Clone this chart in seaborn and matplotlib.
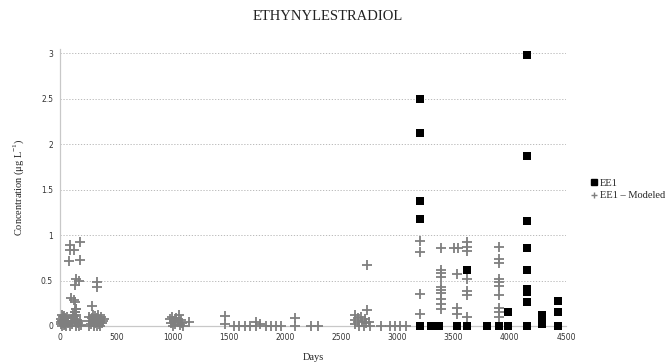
import matplotlib
matplotlib.use("Agg")
import matplotlib.pyplot as plt
from matplotlib.lines import Line2D
import seaborn as sns
import pandas as pd

# ---- data ----
ee1_days = [3197, 3197, 3197, 3197, 3197,
            3300, 3374, 3528, 3621, 3621, 3795, 3908, 3981, 3981,
            4154, 4154, 4154, 4154, 4154, 4154, 4154, 4154, 4154,
            4290, 4290, 4290, 4426, 4426, 4426]
ee1_vals = [0.0, 1.18, 1.37, 2.12, 2.50,
            0.0, 0.0, 0.0, 0.0, 0.62, 0.0, 0.0, 0.0, 0.15,
            0.0, 0.26, 0.37, 0.41, 0.62, 0.86, 1.15, 1.87, 2.98,
            0.02, 0.07, 0.12, 0.0, 0.15, 0.27]

mod_days = [
    # 0-200 low cluster
    5, 10, 15, 20, 25, 30, 35, 40, 45, 50, 55, 60, 20, 40, 8, 28, 48, 65, 70,
    90, 100, 110, 120, 130, 140, 150, 160, 170, 180, 190, 115, 135, 145, 125,
    # 0-400 upper points
    85, 182, 89, 124, 83, 182, 138, 168, 133, 328, 328, 100, 124, 133, 281, 142, 133, 142,
    # 250-400 cluster
    255, 265, 275, 285, 290, 300, 305, 310, 315, 320, 325, 330, 335, 340, 345,
    350, 355, 360, 365, 370, 380, 390, 260, 295, 340,
    # ~1000
    975, 985, 995, 1005, 1015, 1025, 1035, 1045, 1055, 1065, 1075, 1085, 1095, 1150,
    # 1450-2300
    1466, 1466, 1546, 1593, 1643, 1687, 1747, 1747, 1776, 1835, 1880, 1924, 1969,
    2087, 2087, 2232, 2290,
    # 2600-2750
    2620, 2620, 2620, 2650, 2650, 2660, 2680, 2690, 2700, 2710, 2720, 2730, 2730, 2750, 2760,
    # 2850-3100
    2857, 2931, 2975, 3020, 3073,
    # 3200+
    3197, 3197, 3197, 3197,
    3385, 3390, 3390, 3390, 3390, 3390, 3390, 3390, 3390, 3390,
    3500, 3540, 3528, 3528, 3528,
    3621, 3621, 3621, 3621, 3621, 3621, 3621,
    3900, 3900, 3900, 3900, 3900, 3900, 3900, 3900, 3900, 3900,
]
mod_vals = [
    0.02, 0.08, 0.05, 0.0, 0.10, 0.03, 0.07, 0.01, 0.09, 0.05, 0.0, 0.06, 0.12, 0.11, 0.04, 0.06, 0.02, 0.10, 0.03,
    0.0, 0.06, 0.02, 0.09, 0.04, 0.0, 0.07, 0.03, 0.0, 0.05, 0.01, 0.12, 0.15, 0.19, 0.11,
    0.89, 0.92, 0.84, 0.84, 0.71, 0.73, 0.52, 0.50, 0.45, 0.48, 0.43, 0.31, 0.29, 0.26, 0.22, 0.19, 0.15, 0.12,
    0.0, 0.06, 0.02, 0.09, 0.04, 0.0, 0.07, 0.11, 0.03, 0.06, 0.0, 0.09, 0.04, 0.12, 0.02,
    0.07, 0.0, 0.05, 0.10, 0.03, 0.06, 0.08, 0.10, 0.12, 0.08,
    0.08, 0.03, 0.10, 0.0, 0.06, 0.02, 0.09, 0.04, 0.12, 0.01, 0.07, 0.03, 0.0, 0.04,
    0.11, 0.02, 0.0, 0.0, 0.0, 0.0, 0.04, 0.0, 0.02, 0.0, 0.0, 0.0, 0.0,
    0.09, 0.0, 0.0, 0.0,
    0.12, 0.07, 0.02, 0.09, 0.04, 0.0, 0.10, 0.05, 0.0, 0.08, 0.03, 0.18, 0.67, 0.04, 0.0,
    0.0, 0.0, 0.0, 0.0, 0.0,
    0.93, 0.81, 0.35, 0.13,
    0.86, 0.62, 0.58, 0.54, 0.43, 0.40, 0.36, 0.30, 0.24, 0.19,
    0.86, 0.86, 0.57, 0.20, 0.13,
    0.92, 0.87, 0.82, 0.52, 0.38, 0.34, 0.10,
    0.87, 0.74, 0.69, 0.52, 0.48, 0.44, 0.34, 0.20, 0.15, 0.10,
]

x_ticks = [0, 500, 1000, 1500, 2000, 2500, 3000, 3500, 4000, 4500]
y_ticks = [0, 0.5, 1, 1.5, 2, 2.5, 3]
y_tick_labels = ["0", "0.5", "1", "1.5", "2", "2.5", "3"]

title = "ETHYNYLESTRADIOL"
x_label = "Days"
y_label = "Concentration (\u03bcg L$^{\\mathregular{-1}}$)"
ee1_name = "EE1"
mod_name = "EE1 \u2013 Modeled"

df_ee1 = pd.DataFrame({"Days": ee1_days, "Conc": ee1_vals})
df_mod = pd.DataFrame({"Days": mod_days, "Conc": mod_vals})

sns.set_style("white")
serif = ["Liberation Serif", "DejaVu Serif"]
sans = ["DejaVu Sans"]

fig = plt.figure(figsize=(6.65, 3.63), dpi=100)
ax = fig.add_axes([0.0902, 0.102, 0.761, 0.764])

grey = "#7f7f7f"
sns.scatterplot(data=df_mod, x="Days", y="Conc", marker="+", color=grey,
                s=50, linewidth=1.3, ax=ax, clip_on=False, zorder=3)
sns.scatterplot(data=df_ee1, x="Days", y="Conc", marker="s", color="black",
                s=34, linewidth=0, ax=ax, clip_on=False, zorder=4)

ax.set_xlim(0, 4500)
ax.set_ylim(0, 3.05)
ax.set_xticks(x_ticks)
ax.set_xticklabels([str(t) for t in x_ticks], fontsize=5.5, family=sans, color="#333333")
ax.set_yticks(y_ticks)
ax.set_yticklabels(y_tick_labels, fontsize=5.5, family=sans, color="#333333")
ax.tick_params(axis="both", length=3, width=0.6, color="#bbbbbb", pad=2)
ax.tick_params(axis="x", length=0, pad=5)

for s in ["top", "right"]:
    ax.spines[s].set_visible(False)
for s in ["left", "bottom"]:
    ax.spines[s].set_color("#c8c8c8")
    ax.spines[s].set_linewidth(0.9)

for yv in y_ticks[1:]:
    ax.axhline(yv, color="#b0b0b0", linestyle=(0, (1.5, 2)), linewidth=0.6, zorder=1)

ax.set_xlabel(x_label, fontsize=7.5, family=serif, color="#222222", labelpad=8)
ax.set_ylabel(y_label, fontsize=7.5, family=serif, color="#222222", labelpad=11)
fig.text(0.493, 0.955, title, ha="center", va="center", fontsize=10.5,
         family=serif, color="#222222")

handles = [
    Line2D([], [], marker="s", color="black", linestyle="none", markersize=5),
    Line2D([], [], marker="+", color=grey, linestyle="none", markersize=5, markeredgewidth=1.0),
]
fig.legend(handles, [ee1_name, mod_name], loc="center left",
           bbox_to_anchor=(0.883, 0.478), frameon=False, handlelength=0.6,
           handletextpad=0.2, labelspacing=0.3, borderaxespad=0,
           prop={"family": serif, "size": 7.5})

fig.savefig("out.png", dpi=100)
